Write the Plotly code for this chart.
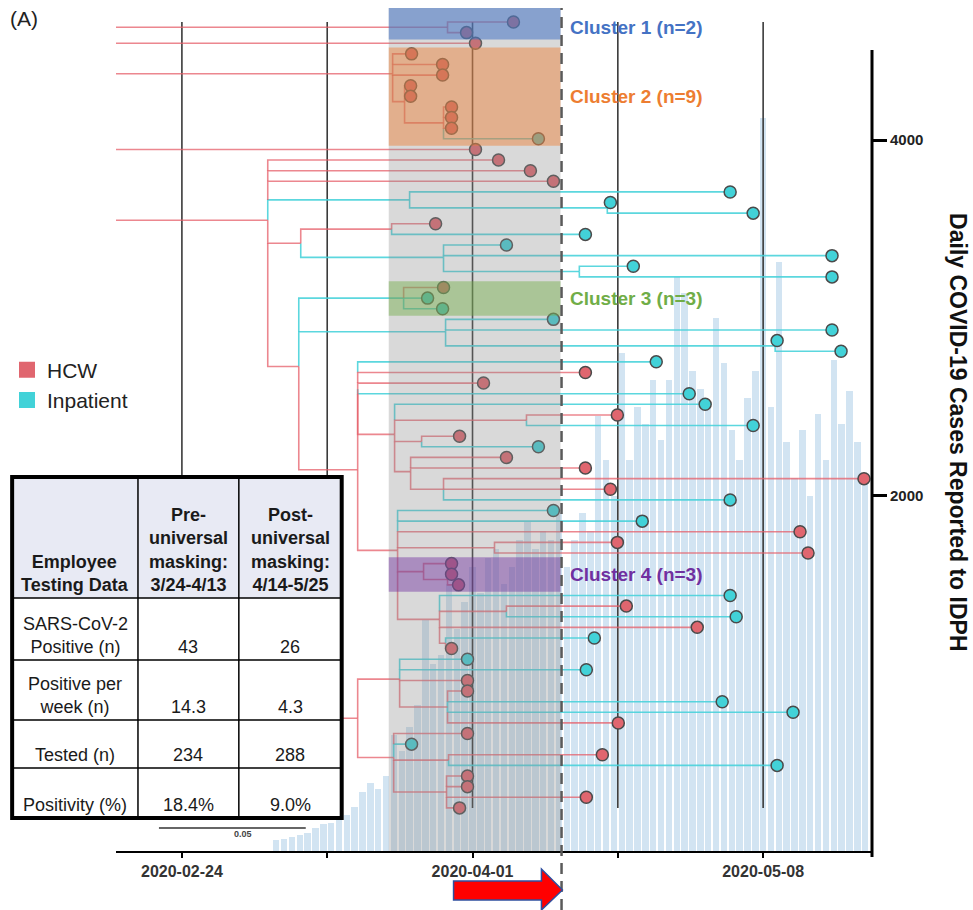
import pandas as pd
import plotly.graph_objects as go

# ---------------- data ----------------
cases_first_day = "2020-03-07"
daily_cases = [60, 70, 80, 90, 100, 130, 150, 160, 180, 200,
               250, 330, 380, 350, 420, 650, 560, 700, 820, 1300,
               1050, 1100, 1500, 1250, 1400, 1600, 1450, 1650, 1700, 1500,
               1600, 1750, 1850, 1700, 1800, 1750, 1900, 1600, 1750, 1900,
               1800, 2450, 2200, 2000, 2800, 2200, 2500, 2400, 2650, 2310,
               2650, 3230, 3140, 2700, 2600, 2500, 3000, 2745, 2370, 2200,
               2550, 2700, 4124, 2500, 3313, 2300, 2100, 2370, 2000, 2460,
               2200, 2760, 2400, 2590, 2300, 2100]

# tree tips (top to bottom): sampling day (days after 2020-04-01) and type
tip_day = [5.21, -0.76, 0.38, -7.76, -3.81, -3.81, -7.88, -7.88, -2.67, -2.67,
           -2.67, 8.39, 0.38, 3.31, 7.37, 10.30, 32.80, 17.55, 35.73, -4.70,
           14.37, 4.32, 45.77, 20.47, 45.77, -3.69, -5.72, -3.81, 10.30, 45.77,
           38.78, 46.92, 23.39, 14.37, 1.40, 27.59, 29.62, 18.44, 35.73, -1.65,
           8.39, 4.32, 14.37, 49.84, 17.55, 32.80, 10.30, 21.61, 41.70, 18.44,
           42.72, -2.67, -2.67, -1.78, 32.80, 19.58, 33.57, 28.61, 15.51, -2.67,
           -0.64, 14.49, -0.64, -0.64, 31.79, 40.81, 18.56, -0.64, -7.76, 16.53,
           38.78, -0.64, -0.64, 14.49, -1.65]
tip_type = list("HHHHHHHHHHHIHHHHIIIHIIIIIHIIIIIIIHHIIHIHIHHHHIIIHHHHHHIHIHIHIIHHIIHHIHIHHHH")

# internal nodes: name, day (after 2020-04-01), inferred state, children (tip index or node name)
node_names = ["root", "C1", "C2", "N403", "N443", "n267", "n409", "n607", "n300", "n391",
              "n443u", "n579", "n298", "C3", "n445", "n775", "nB", "nA", "n394", "n526",
              "n421", "n410", "n443b", "n397", "n494", "C4", "n447c", "n439", "n506", "n445b",
              "L357", "n399", "n447d", "n393", "n448", "n446"]
node_day = [-70, -3.18, -10.17, -8.65, -3.69, -26.07, -8.01, 17.16, -21.87, -10.30,
            -3.69, 13.60, -22.12, -8.77, -3.43, 38.53, -14.62, -14.62, -9.92, 6.87,
            -6.48, -7.88, -3.69, -9.54, 2.80, -6.23, -3.18, -4.20, 4.32, -3.43,
            -14.62, -9.28, -3.18, -10.04, -3.05, -3.31]
node_state = list("HHHHHHIIHHIIHIIIHHHHHHHHHHHHHHHHHHHH")
node_children = [["C1", 2, "C2", 12, "n267", "L357"], [0, 1], [3, 4, 5, "N403"], [6, 7, "N443"],
                 [8, 9, 10, 11], [13, 14, 15, "n409", "n300", "n298"], [16, "n607"], [17, 18],
                 ["n391", "n443u"], [19, 20], [21, 22, "n579"], [23, 24], ["C3", "n445", "nB"],
                 [25, 26, 27], [28, 29, "n775"], [30, 31], ["nA", "n397"], [32, 33, 34, 35, "n394"],
                 [36, "n526", "n421", "n410"], [37, 38], [39, 40], [41, 42, "n443b"], [43, 44, 45],
                 [46, 47, 48, "n494", "C4", "n439"], [49, 50], [51, "n447c"], [52, 53],
                 [54, "n506", 57, "n445b"], [55, 56], [58, 59], ["n399", "n393"],
                 [60, 61, 62, "n447d"], [63, 64, 65, 66], [67, 68, "n448", "n446"], [69, 70],
                 [71, 72, 73, 74]]

cluster_labels = ["Cluster 1 (n=2)", "Cluster 2 (n=9)", "Cluster 3 (n=3)", "Cluster 4 (n=3)"]
cluster_first_tip = [0, 3, 25, 51]
cluster_last_tip = [1, 11, 27, 53]
cluster_colors = ["#4472c4", "#ed7d31", "#70ad47", "#7030a0"]
cluster_fills = ["rgba(68,114,196,0.55)", "rgba(237,125,49,0.45)",
                 "rgba(112,173,71,0.45)", "rgba(112,48,160,0.45)"]

window_start = "2020-03-21 08:00"
window_end = "2020-04-12 05:00"
masking_date = "2020-04-12 08:00"

x_tick_vals = ["2020-02-24", "2020-03-13 12:00", "2020-04-01", "2020-04-19 12:00", "2020-05-08"]
x_tick_text = ["2020-02-24", "", "2020-04-01", "", "2020-05-08"]
y_tick_vals = [2000, 4000]

table_header = ["Employee<br>Testing Data", "Pre-<br>universal<br>masking:<br>3/24-4/13",
                "Post-<br>universal<br>masking:<br>4/14-5/25"]
table_rows = ["SARS-CoV-2<br>Positive (n)", "Positive per<br>week (n)", "Tested (n)", "Positivity (%)"]
table_pre = ["43", "14.3", "234", "18.4%"]
table_post = ["26", "4.3", "288", "9.0%"]

# ---------------- styling ----------------
FONT = "Liberation Sans, Arial, sans-serif"
W, H = 973, 910
ML, MR, MT, MB = 115, 101, 8, 59
PW, PH = W - ML - MR, H - MT - MB


def px(x):
    return (x - ML) / PW


def py(y):
    return (H - MB - y) / PH


HCW_LINE, INP_LINE = "rgba(230,95,105,0.75)", "rgba(70,210,218,0.88)"
HCW_FILL, INP_FILL = "#e0666f", "#42d2d8"
ref_day = pd.Timestamp("2020-04-01")


def to_date(d):
    return None if d is None else ref_day + pd.Timedelta(days=d)


# ---------------- tree geometry ----------------
nodes = {n: dict(day=d, state=s, kids=k) for n, d, s, k in
         zip(node_names, node_day, node_state, node_children)}


def get_y(c):
    if isinstance(c, int):
        return c
    n = nodes[c]
    if "y" not in n:
        n["y"] = sum(get_y(k) for k in n["kids"]) / len(n["kids"])
    return n["y"]


def get_x(c):
    return tip_day[c] if isinstance(c, int) else nodes[c]["day"]


def get_state(c):
    return tip_type[c] if isinstance(c, int) else nodes[c]["state"]


segs = {"H": ([], []), "I": ([], [])}
for name in node_names:
    n = nodes[name]
    x0, y0 = n["day"], get_y(name)
    if name == "root":
        for c in n["kids"]:
            xs, ys = segs[get_state(c)]
            xs += [x0, get_x(c), None]
            ys += [get_y(c), get_y(c), None]
        continue
    above = sorted([c for c in n["kids"] if get_y(c) < y0], key=lambda c: -get_y(c))
    below = sorted([c for c in n["kids"] if get_y(c) >= y0], key=get_y)
    for group in (above, below):
        prev = y0
        for c in group:
            yc = get_y(c)
            xs, ys = segs[get_state(c)]
            xs += [x0, x0, get_x(c), None]
            ys += [prev, yc, yc, None]
            prev = yc

fig = go.Figure()

# daily cases bars
bar_dates = pd.date_range(cases_first_day, periods=len(daily_cases), freq="D")
fig.add_trace(go.Bar(x=bar_dates, y=daily_cases, width=0.82 * 86400000,
                     marker=dict(color="rgba(160,198,228,0.47)", line=dict(width=0)),
                     showlegend=False, hoverinfo="skip", yaxis="y"))

# tree time gridlines (span first to last tip)
gx, gy = [], []
for tv in x_tick_vals:
    gx += [tv, tv, None]
    gy += [0, len(tip_day) - 1, None]
fig.add_trace(go.Scatter(x=gx, y=gy, mode="lines", line=dict(color="#3a3a3a", width=1.6),
                         showlegend=False, hoverinfo="skip", yaxis="y2"))

# branches
for st, col in (("I", INP_LINE), ("H", HCW_LINE)):
    xs, ys = segs[st]
    fig.add_trace(go.Scatter(x=[to_date(v) for v in xs], y=ys, mode="lines",
                             line=dict(color=col, width=1.6), showlegend=False,
                             hoverinfo="skip", yaxis="y2"))

# tips
for st, fill, nm in (("H", HCW_FILL, "HCW"), ("I", INP_FILL, "Inpatient")):
    idx = [i for i, t in enumerate(tip_type) if t == st]
    fig.add_trace(go.Scatter(x=[to_date(tip_day[i]) for i in idx], y=idx, mode="markers",
                             marker=dict(size=12, color=fill, line=dict(color="#4a4a4a", width=1.5)),
                             showlegend=False, yaxis="y2", name=nm))
    fig.add_trace(go.Scatter(x=[None], y=[None], mode="markers", name=nm,
                             marker=dict(symbol="square", size=18, color=fill)))

shapes = []
# comparison window (gray)
shapes.append(dict(type="rect", xref="x", yref="paper", x0=window_start, x1=window_end, y0=0, y1=1,
                   fillcolor="rgba(140,140,140,0.33)", line=dict(width=0), layer="above"))
# clusters
ann = []
for lab, f, l, col, fill in zip(cluster_labels, cluster_first_tip, cluster_last_tip,
                                cluster_colors, cluster_fills):
    y0 = -1.4 if f == 0 else f - 0.6
    shapes.append(dict(type="rect", xref="x", yref="y2", x0=window_start, x1=window_end,
                       y0=y0, y1=l + 0.65, fillcolor=fill, line=dict(width=0), layer="above"))
    ann.append(dict(x=to_date(12.2), y=(f + l) / 2, xref="x", yref="y2", text="<b>%s</b>" % lab,
                    showarrow=False, xanchor="left", yanchor="middle",
                    font=dict(size=19, color=col, family=FONT)))
# masking dashed line
shapes.append(dict(type="line", xref="x", yref="paper", x0=masking_date, x1=masking_date,
                   y0=py(910), y1=1, line=dict(color="#5a5a5a", width=2.5, dash="11px,7px"),
                   layer="above"))
# right axis line
shapes.append(dict(type="line", xref="paper", yref="paper", x0=1.0, x1=1.0, y0=py(857), y1=py(50),
                   line=dict(color="black", width=3)))

# table
tx = [11, 137, 238, 341]
ty = [477, 598, 660, 720, 768, 818]
shapes.append(dict(type="rect", xref="paper", yref="paper", x0=px(tx[0]), x1=px(tx[-1]),
                   y0=py(ty[-1]), y1=py(ty[0]), fillcolor="white", line=dict(width=0), layer="above"))
shapes.append(dict(type="rect", xref="paper", yref="paper", x0=px(tx[0]), x1=px(tx[-1]),
                   y0=py(ty[1]), y1=py(ty[0]), fillcolor="#e8eaf4", line=dict(width=0), layer="above"))
for xv in tx[1:-1]:
    shapes.append(dict(type="line", xref="paper", yref="paper", x0=px(xv), x1=px(xv),
                       y0=py(ty[-1]), y1=py(ty[0]), line=dict(color="black", width=1.5), layer="above"))
for yv in ty[1:-1]:
    shapes.append(dict(type="line", xref="paper", yref="paper", x0=px(tx[0]), x1=px(tx[-1]),
                       y0=py(yv), y1=py(yv), line=dict(color="black", width=1.5), layer="above"))
shapes.append(dict(type="rect", xref="paper", yref="paper", x0=px(tx[0]), x1=px(tx[-1]),
                   y0=py(ty[-1]), y1=py(ty[0]), line=dict(color="black", width=4), layer="above"))

cells = [table_header] + [[r, a, b] for r, a, b in zip(table_rows, table_pre, table_post)]
for ri, row in enumerate(cells):
    for ci, txt in enumerate(row):
        ann.append(dict(x=px((tx[ci] + tx[ci + 1]) / 2), y=py(ty[ri + 1] - 1), xref="paper", yref="paper",
                        text=("<b>%s</b>" % txt) if ri == 0 else txt, showarrow=False,
                        xanchor="center", yanchor="bottom",
                        font=dict(size=18, color="#1a1a1a", family=FONT)))

# scale bar
shapes.append(dict(type="line", xref="paper", yref="paper", x0=px(158), x1=px(305), y0=py(828), y1=py(828),
                   line=dict(color="#333", width=1.5)))
ann.append(dict(x=px(231), y=py(841), xref="paper", yref="paper", text="<b>0.05</b>", showarrow=False,
                font=dict(size=9, color="#444", family=FONT)))

# red arrow
arrow_pts = [(453, 881), (541, 881), (541, 869), (562, 890), (541, 910), (541, 900), (453, 900)]
path = "M " + " L ".join("%f,%f" % (px(a), py(b)) for a, b in arrow_pts) + " Z"
shapes.append(dict(type="path", xref="paper", yref="paper", path=path, fillcolor="#ff0000",
                   line=dict(color="#2f4f9f", width=1.5), layer="above"))

ann.append(dict(x=px(7), y=py(19), xref="paper", yref="paper", text="(A)", showarrow=False,
                xanchor="left", yanchor="middle", font=dict(size=21, color="#222", family=FONT)))
ann.append(dict(x=px(958), y=py(432), xref="paper", yref="paper",
                text="<b>Daily COVID-19 Cases Reported to IDPH</b>", showarrow=False, textangle=90,
                xanchor="center", yanchor="middle", font=dict(size=23, color="#111", family=FONT)))

x_left = ref_day - pd.Timedelta(days=45.39)
x_right = ref_day + pd.Timedelta(days=50.86)

fig.update_layout(
    width=W, height=H, margin=dict(l=ML, r=MR, t=MT, b=MB),
    paper_bgcolor="white", plot_bgcolor="white", font=dict(family=FONT),
    shapes=shapes, annotations=ann, bargap=0,
    xaxis=dict(type="date", range=[x_left, x_right], tickvals=x_tick_vals, ticktext=x_tick_text,
               ticks="outside", ticklen=5, tickwidth=1.5, tickcolor="black", showline=True,
               linecolor="black", linewidth=2, showgrid=False, zeroline=False,
               tickfont=dict(size=16, color="#333", family=FONT, weight="bold")),
    yaxis=dict(side="right", range=[0, 4743], tickvals=y_tick_vals, ticks="outside", ticklen=14,
               tickwidth=2.5, tickcolor="black", showline=False, showgrid=False, zeroline=False,
               tickfont=dict(size=15, color="#222", family=FONT, weight="bold")),
    yaxis2=dict(overlaying="y", range=[78.06, -1.318], visible=False),
    legend=dict(x=px(7), y=py(385), xanchor="left", yanchor="middle", bgcolor="rgba(0,0,0,0)",
                font=dict(size=21, color="#222", family=FONT)),
)

fig.write_html("out.html", config={"displayModeBar": False},
               post_script="document.body.style.margin='0px';")
